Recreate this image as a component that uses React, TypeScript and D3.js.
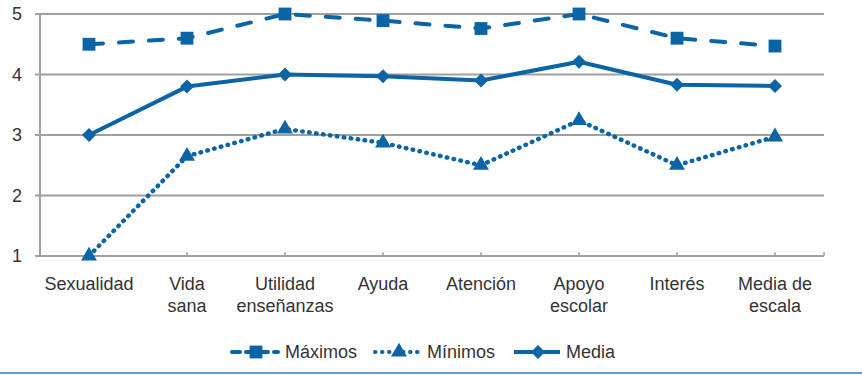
import * as d3 from "d3";

const categories = [
  "Sexualidad",
  "Vida sana",
  "Utilidad enseñanzas",
  "Ayuda",
  "Atención",
  "Apoyo escolar",
  "Interés",
  "Media de escala",
];
const categoryLines = [
  ["Sexualidad"],
  ["Vida", "sana"],
  ["Utilidad", "enseñanzas"],
  ["Ayuda"],
  ["Atención"],
  ["Apoyo", "escolar"],
  ["Interés"],
  ["Media de", "escala"],
];
const maximos = [4.5, 4.6, 5.0, 4.89, 4.76, 5.0, 4.6, 4.47];
const minimos = [1.0, 2.65, 3.1, 2.87, 2.5, 3.24, 2.5, 2.97];
const media = [3.0, 3.8, 4.0, 3.97, 3.9, 4.21, 3.83, 3.81];
const yTicks = [1, 2, 3, 4, 5];

const series = [
  { name: "Máximos", values: maximos, dash: "14 16", symbol: "square" },
  { name: "Mínimos", values: minimos, dash: "0.5 6.5", symbol: "triangle" },
  { name: "Media", values: media, dash: "", symbol: "diamond" },
];

const blue = "#0b64a6";
const grid = "#a0a0a0";
const font = "'Liberation Sans', Arial, sans-serif";

// marker shapes follow the reference: square, triangle, square turned 45deg
const Marker = ({ kind, x, y }: { kind: string; x: number; y: number }) => {
  if (kind === "square") {
    const p = d3.symbol(d3.symbolSquare, 165)();
    return <path d={p ?? ""} transform={`translate(${x},${y})`} fill={blue} />;
  }
  if (kind === "triangle") {
    const p = d3.symbol(d3.symbolTriangle, 110)();
    return <path d={p ?? ""} transform={`translate(${x},${y})`} fill={blue} />;
  }
  const p = d3.symbol(d3.symbolSquare, 98)();
  return <path d={p ?? ""} transform={`translate(${x},${y}) rotate(45)`} fill={blue} />;
};

export default function App() {
  const width = 862;
  const height = 375;
  const left = 40;
  const right = 824;
  const top = 14;
  const bottom = 256;

  const x = d3.scaleBand().domain(categories).range([left, right]).padding(0);
  const cx = (c: string) => (x(c) ?? 0) + x.bandwidth() / 2;
  const y = d3.scaleLinear().domain([1, 5]).range([bottom, top]);

  const line = d3
    .line<number>()
    .x((_, i) => cx(categories[i]))
    .y((d) => y(d));

  const legendItems = [
    { s: series[0], x0: 232, tx: 285 },
    { s: series[1], x0: 375, tx: 427 },
    { s: series[2], x0: 514, tx: 566 },
  ];

  return (
    <>
      <style>{`body{margin:0}`}</style>
      <svg width={width} height={height} style={{ display: "block", fontFamily: font }}>
        {yTicks.map((t) => (
          <g key={t}>
            <line x1={left - 5} x2={right} y1={y(t)} y2={y(t)} stroke={grid} strokeWidth={2} />
            <text x={22} y={y(t) + 6} fontSize={18} fill="#333" textAnchor="end">
              {t}
            </text>
          </g>
        ))}
        <line x1={left} x2={left} y1={top} y2={bottom} stroke={grid} strokeWidth={2} />
        {categories.slice(1).map((c) => (
          <line key={c} x1={cx(c)} x2={cx(c)} y1={bottom} y2={bottom - 4} stroke={grid} strokeWidth={1.5} />
        ))}
        <line x1={right} x2={right} y1={bottom} y2={bottom - 4} stroke={grid} strokeWidth={1.5} />

        {categoryLines.map((ls, i) => (
          <text key={i} x={cx(categories[i])} y={290} fontSize={18} fill="#333" textAnchor="middle">
            {ls.map((l, j) => (
              <tspan key={j} x={cx(categories[i])} dy={j === 0 ? 0 : 22}>
                {l}
              </tspan>
            ))}
          </text>
        ))}

        {series.map((s) => (
          <g key={s.name}>
            <path
              d={line(s.values) ?? ""}
              fill="none"
              stroke={blue}
              strokeWidth={s.symbol === "triangle" ? 4.5 : 4}
              strokeDasharray={s.dash || undefined}
              strokeLinecap={s.dash ? "round" : "butt"}
              strokeLinejoin="round"
            />
            {s.values.map((v, i) => (
              <Marker key={i} kind={s.symbol} x={cx(categories[i])} y={y(v)} />
            ))}
          </g>
        ))}

        {legendItems.map(({ s, x0, tx }) => (
          <g key={s.name}>
            <line
              x1={x0}
              x2={x0 + 46}
              y1={352}
              y2={352}
              stroke={blue}
              strokeWidth={4}
              strokeDasharray={s.symbol === "square" ? "8 6" : s.dash || undefined}
              strokeLinecap={s.dash ? "round" : "butt"}
            />
            <Marker kind={s.symbol} x={x0 + 24} y={352} />
            <text x={tx} y={358} fontSize={18} fill="#333">
              {s.name}
            </text>
          </g>
        ))}

        <line x1={0} x2={width} y1={373} y2={373} stroke="#2a7fc0" strokeWidth={1.5} />
      </svg>
    </>
  );
}
